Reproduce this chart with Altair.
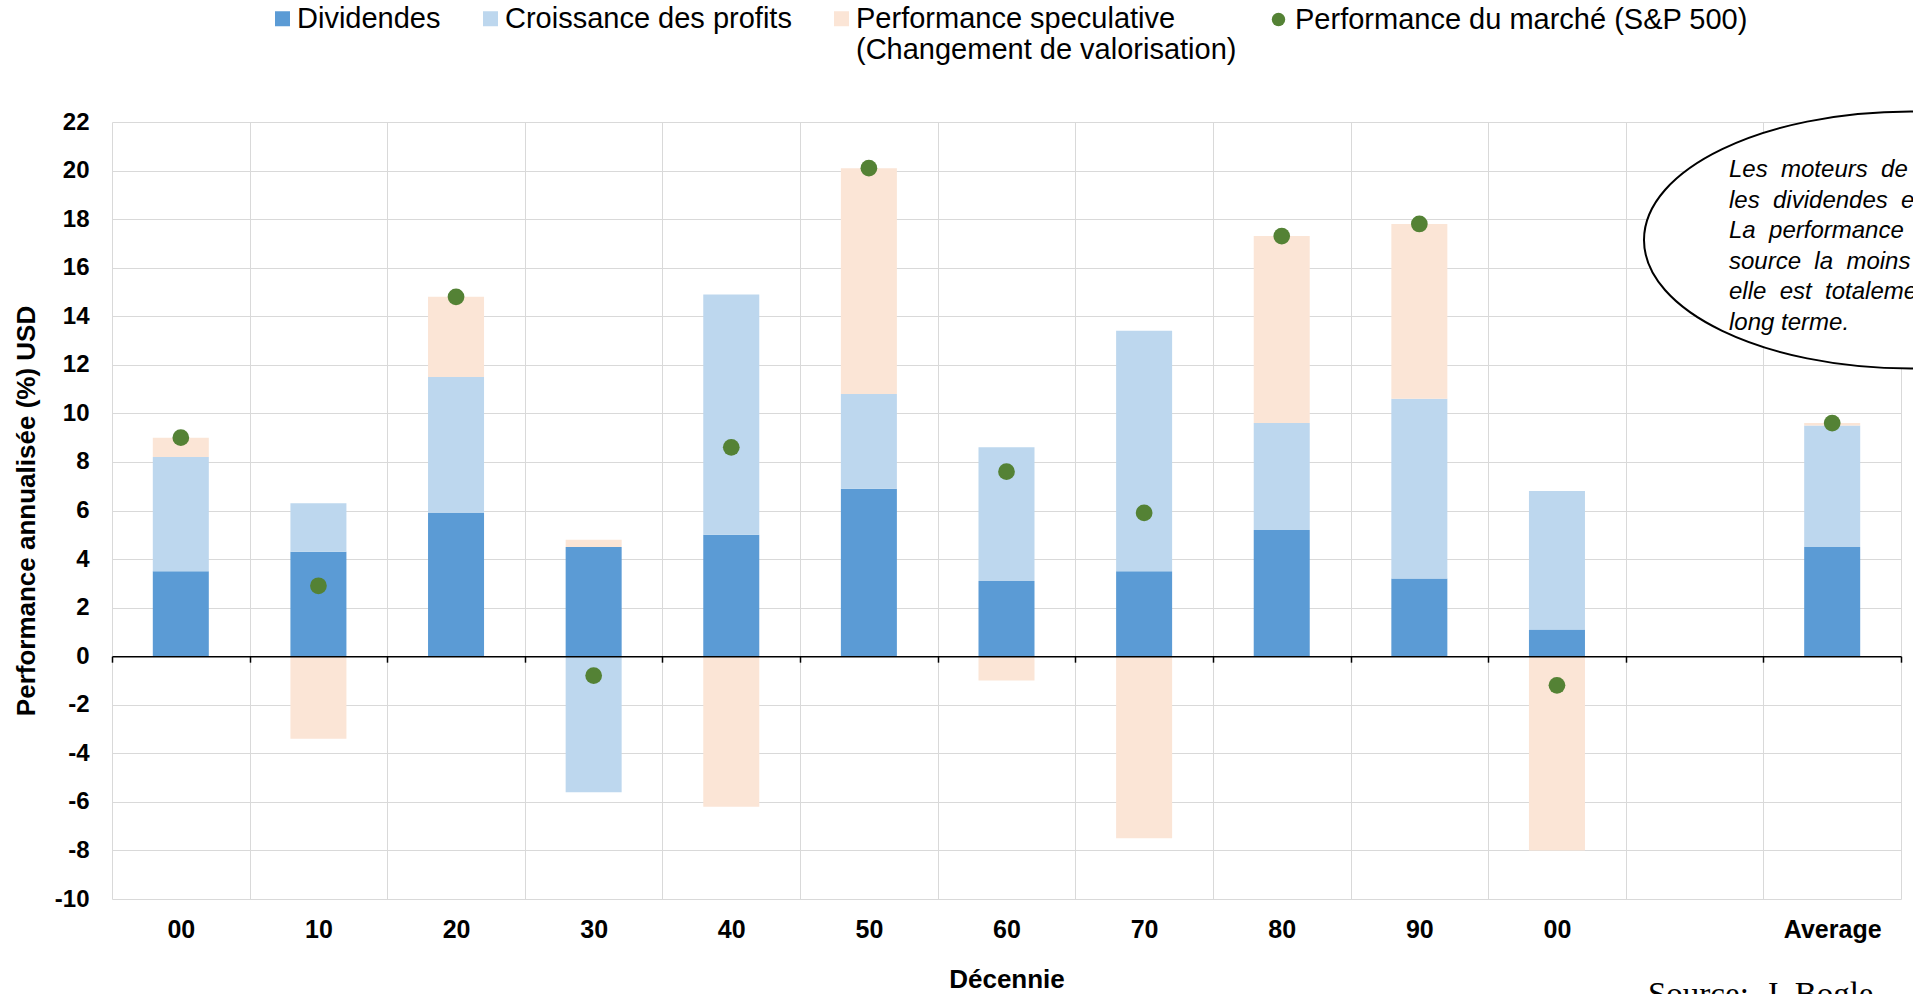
import json
import altair as alt
import pandas as pd

# ---------------- data ----------------
decade_keys = ["1900", "1910", "1920", "1930", "1940", "1950", "1960",
               "1970", "1980", "1990", "2000", "gap", "Average"]
decade_labels = ["00", "10", "20", "30", "40", "50", "60",
                 "70", "80", "90", "00", "", "Average"]

dividendes = [3.5, 4.3, 5.9, 4.5, 5.0, 6.9, 3.1, 3.5, 5.2, 3.2, 1.1, None, 4.5]
croissance = [4.7, 2.0, 5.6, -5.6, 9.9, 3.9, 5.5, 9.9, 4.4, 7.4, 5.7, None, 5.0]
speculative = [0.8, -3.4, 3.3, 0.3, -6.2, 9.3, -1.0, -7.5, 7.7, 7.2, -8.0, None, 0.1]
marche = [9.0, 2.9, 14.8, -0.8, 8.6, 20.1, 7.6, 5.9, 17.3, 17.8, -1.2, None, 9.6]

series_names = ["Dividendes", "Croissance des profits",
                "Performance speculative (Changement de valorisation)"]
spec_lines = ["Performance speculative", "(Changement de valorisation)"]
market_name = "Performance du marché (S&P 500)"
series_colors = ["#5B9BD5", "#BDD7EE", "#FBE5D6"]
market_color = "#548235"

y_ticks = list(range(-10, 23, 2))
y_min, y_max = -10, 22
y_title = "Performance annualisée (%) USD"
x_title = "Décennie"

note_lines = [
    "Les\u00a0 moteurs\u00a0 de",
    "les\u00a0 dividendes\u00a0 et",
    "La\u00a0 performance",
    "source\u00a0 la\u00a0 moins",
    "elle\u00a0 est\u00a0 totalement",
    "long terme.",
]
source_text = "Source:\u00a0 J. Bogle"

# ---------------- tables ----------------
rows = []
for i, k in enumerate(decade_keys):
    for j, (name, vals) in enumerate(zip(series_names, [dividendes, croissance, speculative])):
        v = vals[i]
        if v is not None:
            rows.append({"decade": k, "series": name, "value": v, "order": j})
bars_df = pd.DataFrame(rows)

pts_df = pd.DataFrame({"decade": decade_keys, "value": marche})
pts_df = pts_df.dropna()
pts_df["mkt"] = market_name

# ---------------- layout ----------------
W, H = 1789, 777
FONT = "Liberation Sans"
GRID = "#D9D9D9"
zero_offset = -H * (0 - y_min) / (y_max - y_min)

label_expr = f"{json.dumps(decade_labels)}[indexof({json.dumps(decade_keys)}, datum.value)]"
legend_expr = (f"datum.label == {json.dumps(series_names[2])} ? "
               f"{json.dumps(spec_lines)} : [datum.label, '']")

xscale = alt.Scale(domain=decade_keys, paddingInner=0, paddingOuter=0)
yscale = alt.Scale(domain=[y_min, y_max], nice=False, zero=False)

bars = alt.Chart(bars_df).mark_bar(opacity=1, width=alt.RelativeBandSize(0.407)).encode(
    x=alt.X("decade:N", scale=xscale, sort=decade_keys,
            axis=alt.Axis(title=x_title, labelExpr=label_expr, labelAngle=0,
                          labelFont=FONT, labelFontSize=25, labelFontWeight="bold",
                          labelColor="black", labelPadding=18,
                          ticks=False, tickSize=0, domain=False,
                          grid=True, gridColor=GRID, gridWidth=1, tickBand="extent",
                          titleFont=FONT, titleFontSize=26, titleFontWeight="bold",
                          titleColor="black", titlePadding=24)),
    y=alt.Y("value:Q", stack="zero", scale=yscale,
            axis=alt.Axis(title=y_title, values=y_ticks, labelExpr="'' + datum.value",
                          labelFont=FONT, labelFontSize=24, labelFontWeight="bold",
                          labelColor="black", labelPadding=23,
                          ticks=False, tickSize=0, domain=False,
                          grid=True, gridColor=GRID, gridWidth=1,
                          titleFont=FONT, titleFontSize=26, titleFontWeight="bold",
                          titleColor="black", titlePadding=15)),
    color=alt.Color("series:N", scale=alt.Scale(domain=series_names, range=series_colors),
                    legend=alt.Legend(title=None, orient="none", legendX=156, legendY=-118,
                                      direction="horizontal", symbolType="square",
                                      symbolSize=225, symbolStrokeWidth=0, symbolOpacity=1,
                                      labelFont=FONT, labelFontSize=29, labelColor="black",
                                      labelLimit=1000, labelOffset=0, columnPadding=35,
                                      padding=0, labelExpr=legend_expr)),
    order=alt.Order("order:Q"),
)

points = alt.Chart(pts_df).mark_point(filled=True, size=280, opacity=1, color=market_color).encode(
    x=alt.X("decade:N", scale=xscale, sort=decade_keys,
            axis=alt.Axis(title=None, orient="bottom", offset=zero_offset, labels=False,
                          grid=False, domain=True, domainColor="black", domainWidth=1.5,
                          ticks=True, tickColor="black", tickSize=6, tickWidth=1.5,
                          tickBand="extent", zindex=1)),
    y=alt.Y("value:Q", scale=yscale, title=y_title),
    shape=alt.Shape("mkt:N", scale=alt.Scale(domain=[market_name], range=["circle"]),
                    legend=alt.Legend(title=None, orient="none", legendX=1152, legendY=-117,
                                      symbolFillColor=market_color, symbolStrokeWidth=0,
                                      symbolSize=180, symbolOpacity=1,
                                      labelFont=FONT, labelFontSize=29, labelColor="black",
                                      labelLimit=1000, labelOffset=2, padding=0)),
)

ry = 127 / 264
k = 0.5523
ellipse_path = (f"M -1 0 C -1 {-k*ry:.4f} {-k:.4f} {-ry:.4f} 0 {-ry:.4f} "
                f"C {k:.4f} {-ry:.4f} 1 {-k*ry:.4f} 1 0 "
                f"C 1 {k*ry:.4f} {k:.4f} {ry:.4f} 0 {ry:.4f} "
                f"C {-k:.4f} {ry:.4f} -1 {k*ry:.4f} -1 0 Z")

anno_df = pd.DataFrame({"a": [0]})
ellipse = alt.Chart(anno_df).mark_point(
    shape=ellipse_path, size=(2 * 267) ** 2, filled=True, fill="white",
    stroke="black", strokeWidth=2, opacity=1, fillOpacity=1, strokeOpacity=1
).encode(x=alt.value(1799), y=alt.value(118))

note = alt.Chart(anno_df).mark_text(
    align="left", baseline="middle", font=FONT, fontSize=24, fontStyle="italic",
    lineHeight=30.6, color="black"
).encode(x=alt.value(1617), y=alt.value(48), text=alt.value(note_lines))

source = alt.Chart(anno_df).mark_text(
    align="left", baseline="top", font="Liberation Serif", fontSize=33, color="black"
).encode(x=alt.value(1536), y=alt.value(857), text=alt.value(source_text))

chart = alt.layer(bars, points, ellipse, note, source).resolve_axis(
    x="independent"
).properties(
    width=W, height=H,
    autosize=alt.AutoSizeParams(type="none"),
    padding={"left": 112, "top": 122, "right": 12, "bottom": 95},
).configure(font=FONT).configure_view(stroke=None)

chart.save("out.html", embed_options={"renderer": "svg", "actions": False})
